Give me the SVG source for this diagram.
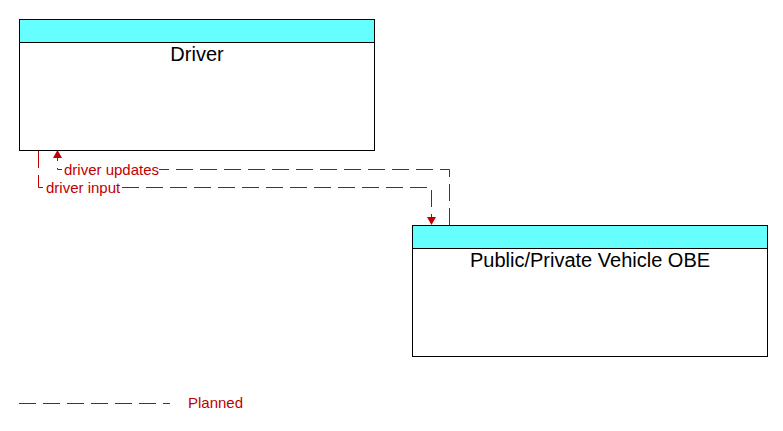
<svg xmlns="http://www.w3.org/2000/svg" width="783" height="431" viewBox="0 0 783 431">
<defs>
<style>
.box{fill:#fff;stroke:#000;stroke-width:1}
.hdr{fill:#66ffff;stroke:#000;stroke-width:1}
.title{font-family:"Liberation Sans",Arial,sans-serif;font-size:20px;fill:#000;text-anchor:middle}
.flow{fill:none;stroke:#c00000;stroke-width:1;stroke-dasharray:17,7}
.lbl{font-family:"Liberation Sans",Arial,sans-serif;font-size:15px;fill:#c00000}
.bg{fill:#fff}
.ah{fill:#c00000}
</style>
</defs>
<rect width="783" height="431" fill="#fff"/>
<g id="driver">
<rect class="box" x="19.5" y="19.5" width="355" height="131"/>
<rect class="hdr" x="19.5" y="19.5" width="355" height="23"/>
<text class="title" x="197" y="61">Driver</text>
</g>
<g id="obe">
<rect class="box" x="412.5" y="225.5" width="355" height="131"/>
<rect class="hdr" x="412.5" y="225.5" width="355" height="23"/>
<text class="title" x="590" y="267">Public/Private Vehicle OBE</text>
</g>
<g id="connectors">
<path class="flow" d="M449.5,225 L449.5,169.5 L57.5,169.5 L57.5,157"/>
<polygon class="ah" points="57.5,150 53,158 62,158"/>
<path class="flow" d="M38.5,151 L38.5,187.5 L431.5,187.5 L431.5,218"/>
<polygon class="ah" points="431.5,225 427,217 436,217"/>
<rect class="bg" x="62" y="162" width="97" height="15"/>
<text class="lbl" x="64" y="175">driver updates</text>
<rect class="bg" x="44" y="180" width="76" height="15"/>
<text class="lbl" x="46" y="193">driver input</text>
</g>
<g id="legend">
<line class="flow" x1="19" y1="403.5" x2="170" y2="403.5"/>
<text class="lbl" x="188" y="408">Planned</text>
</g>
</svg>
